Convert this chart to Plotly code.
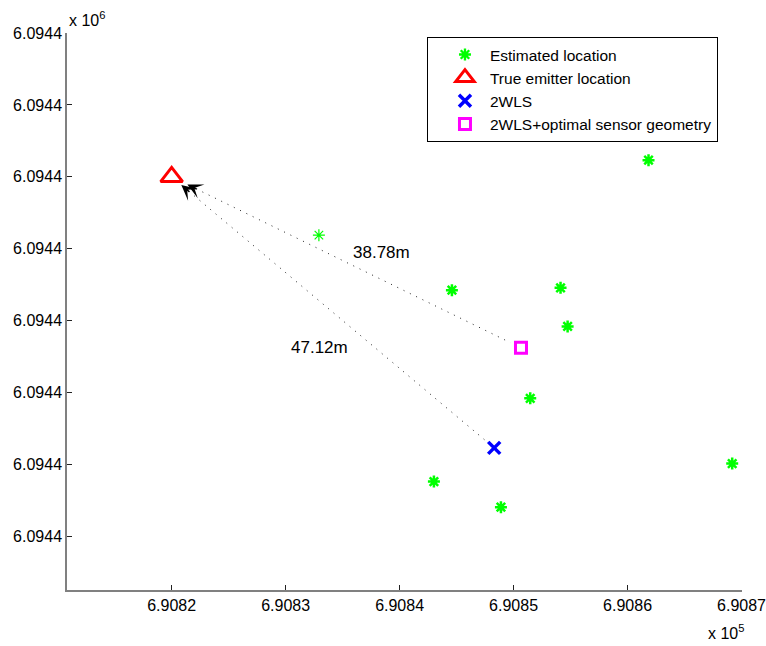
import plotly.graph_objects as go

# Estimated emitter positions (UTM easting / northing, metres)
est_x = [690832.92, 690844.59, 690854.12, 690854.74, 690861.84,
         690851.46, 690869.18, 690843.01, 690848.89]
est_y = [6094411.89, 6094404.25, 6094404.58, 6094399.21, 6094422.31,
         6094389.21, 6094380.14, 6094377.64, 6094374.07]
est_lw = [1.2, 2.5, 2.5, 2.5, 2.5, 2.5, 2.5, 2.5, 2.5]

true_x, true_y = 690820.00, 6094420.00
wls_x, wls_y = 690848.30, 6094382.32
opt_x, opt_y = 690850.65, 6094396.23

err_labels = ["38.78m", "47.12m"]

x_ticks = [690820, 690830, 690840, 690850, 690860, 690870]
x_ticktext = ["6.9082", "6.9083", "6.9084", "6.9085", "6.9086", "6.9087"]
y_ticks = [6094370, 6094380, 6094390, 6094400, 6094410, 6094420, 6094430, 6094440]
y_ticktext = ["6.0944"] * len(y_ticks)

FONT = "Liberation Sans, Arial, Helvetica, sans-serif"

fig = go.Figure()


def along(x0, y0, x1, y1, t):
    return x0 + t * (x1 - x0), y0 + t * (y1 - y0)


# dotted error lines from the true location to each solution
for (ex, ey) in [(opt_x, opt_y), (wls_x, wls_y)]:
    sx, sy = along(true_x, true_y, ex, ey, 0.07)
    fx, fy = along(true_x, true_y, ex, ey, 0.97)
    fig.add_trace(go.Scatter(x=[sx, fx], y=[sy, fy], mode="lines",
                             line=dict(color="#222222", width=1, dash="1px,6px"),
                             showlegend=False, hoverinfo="skip"))

fig.add_trace(go.Scatter(
    x=est_x, y=est_y, mode="markers", name="Estimated location",
    marker=dict(symbol="asterisk-open", size=10, color="#00ff00",
                line=dict(color="#00ff00", width=est_lw))))
fig.add_trace(go.Scatter(
    x=[true_x], y=[true_y], mode="markers", name="True emitter location",
    marker=dict(symbol="triangle-up-open", size=19, color="#ff0000",
                line=dict(color="#ff0000", width=3))))
fig.add_trace(go.Scatter(
    x=[wls_x], y=[wls_y], mode="markers", name="2WLS",
    marker=dict(symbol="x-thin-open", size=12, color="#0000ff",
                line=dict(color="#0000ff", width=3.5))))
fig.add_trace(go.Scatter(
    x=[opt_x], y=[opt_y], mode="markers", name="2WLS+optimal sensor geometry",
    marker=dict(symbol="square-open", size=11, color="#ff00ff",
                line=dict(color="#ff00ff", width=3))))

annotations = []
# arrowheads pointing at the true emitter
for (ex, ey), t0 in [((opt_x, opt_y), 0.045), ((wls_x, wls_y), 0.03)]:
    tx, ty = along(true_x, true_y, ex, ey, t0)
    bx, by = along(true_x, true_y, ex, ey, t0 + 0.03)
    annotations.append(dict(x=tx, y=ty, ax=bx, ay=by, xref="x", yref="y",
                            axref="x", ayref="y", text="", showarrow=True,
                            arrowhead=3, arrowsize=1.7, arrowwidth=1.5,
                            arrowcolor="#000000"))

# distance labels
annotations.append(dict(x=690838.45, y=6094409.5, xref="x", yref="y",
                        text=err_labels[0], showarrow=False,
                        font=dict(family=FONT, size=17, color="#000000")))
annotations.append(dict(x=690833.0, y=6094396.3, xref="x", yref="y",
                        text=err_labels[1], showarrow=False,
                        font=dict(family=FONT, size=17, color="#000000")))

# axis exponent labels
annotations.append(dict(x=0, y=1, xref="paper", yref="paper", xanchor="left",
                        yanchor="bottom", yshift=2, text="x 10<sup>6</sup>",
                        showarrow=False,
                        font=dict(family=FONT, size=16, color="#000000")))
annotations.append(dict(x=1, y=0, xref="paper", yref="paper", xanchor="right",
                        yanchor="top", xshift=4, yshift=-30, text="x 10<sup>5</sup>",
                        showarrow=False,
                        font=dict(family=FONT, size=16, color="#000000")))

axis_common = dict(showgrid=False, zeroline=False, showline=True,
                   linecolor="#808080", linewidth=1.5, ticks="inside",
                   ticklen=5, tickcolor="#222222", tickwidth=1,
                   tickfont=dict(family=FONT, size=16, color="#000000"),
                   ticklabeloverflow="allow", automargin=False, mirror=False)

fig.update_layout(
    width=766, height=646,
    margin=dict(l=67, r=24, t=33, b=56),
    paper_bgcolor="white", plot_bgcolor="white",
    xaxis=dict(range=[690810.82, 690870.04], tickvals=x_ticks,
               ticktext=x_ticktext, **axis_common),
    yaxis=dict(range=[6094362.56, 6094440.0], tickvals=y_ticks,
               ticktext=y_ticktext, **axis_common),
    legend=dict(x=0.5333, y=0.993, xanchor="left", yanchor="top",
                bordercolor="#000000", borderwidth=1, bgcolor="white",
                font=dict(family=FONT, size=15.5, color="#000000"),
                itemwidth=40, indentation=12, tracegroupgap=0),
    annotations=annotations,
    showlegend=True,
)

fig.write_html("out.html")
